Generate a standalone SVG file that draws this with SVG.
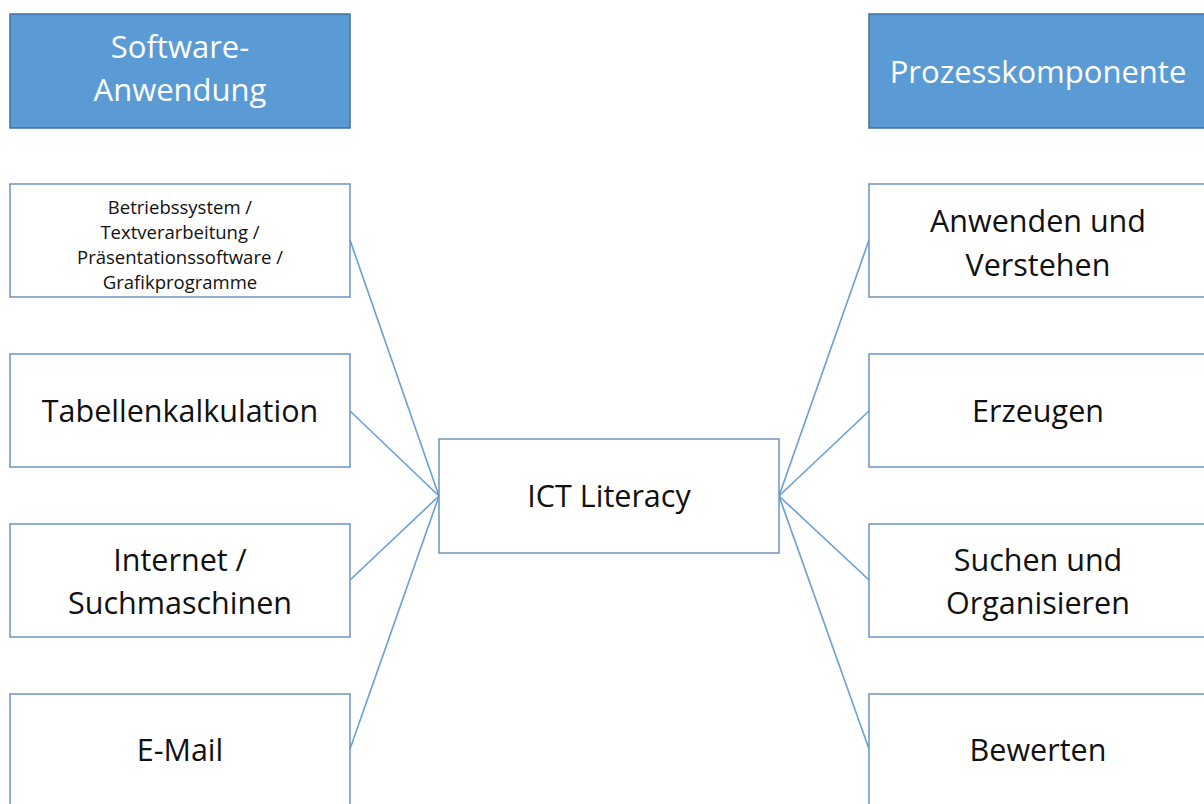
<svg xmlns="http://www.w3.org/2000/svg" width="1204" height="804" viewBox="0 0 1204 804">
<style>
.hdr{fill:#5b9bd5;stroke:#41719c;stroke-width:1.5}
.box{fill:#ffffff;stroke:#6c94bd;stroke-width:1.5}
.t{font-family:"Open Sans","Noto Sans",sans-serif;text-anchor:middle;fill:#111;font-size:30.5px}
.s{font-size:18.5px}
.w{fill:#ffffff;font-size:31px}
.c{stroke:#6a9fd4;stroke-width:1.6;fill:none}
</style>
<rect width="1204" height="804" fill="#ffffff"/>
<g id="connectors">
<line class="c" x1="439" y1="496" x2="350" y2="240"/>
<line class="c" x1="439" y1="496" x2="350" y2="411"/>
<line class="c" x1="439" y1="496" x2="350" y2="580"/>
<line class="c" x1="439" y1="496" x2="350" y2="749"/>
<line class="c" x1="779" y1="496" x2="869" y2="240"/>
<line class="c" x1="779" y1="496" x2="869" y2="411"/>
<line class="c" x1="779" y1="496" x2="869" y2="580"/>
<line class="c" x1="779" y1="496" x2="869" y2="749"/>
</g>
<g id="hdr-software">
<rect class="hdr" x="10" y="14" width="340" height="114"/>
<text class="t w" x="180" y="58">Software-</text>
<text class="t w" x="180" y="101">Anwendung</text>
</g>
<g id="hdr-prozess">
<rect class="hdr" x="869" y="14" width="345" height="114"/>
<text class="t w" x="1038" y="83">Prozesskomponente</text>
</g>
<g id="n-betrieb">
<rect class="box" x="10" y="184" width="340" height="113"/>
<text class="t s" x="180" y="214">Betriebssystem /</text>
<text class="t s" x="180" y="239">Textverarbeitung /</text>
<text class="t s" x="180" y="264">Präsentationssoftware /</text>
<text class="t s" x="180" y="289">Grafikprogramme</text>
</g>
<g id="n-tabelle">
<rect class="box" x="10" y="354" width="340" height="113"/>
<text class="t" x="180" y="422">Tabellenkalkulation</text>
</g>
<g id="n-internet">
<rect class="box" x="10" y="524" width="340" height="113"/>
<text class="t" x="180" y="571">Internet /</text>
<text class="t" x="180" y="614">Suchmaschinen</text>
</g>
<g id="n-email">
<rect class="box" x="10" y="694" width="340" height="113"/>
<text class="t" x="180" y="761">E-Mail</text>
</g>
<g id="n-ict">
<rect class="box" x="439" y="439" width="340" height="114"/>
<text class="t" x="609" y="507">ICT Literacy</text>
</g>
<g id="n-anwenden">
<rect class="box" x="869" y="184" width="345" height="113"/>
<text class="t" x="1038" y="232">Anwenden und</text>
<text class="t" x="1038" y="276">Verstehen</text>
</g>
<g id="n-erzeugen">
<rect class="box" x="869" y="354" width="345" height="113"/>
<text class="t" x="1038" y="422">Erzeugen</text>
</g>
<g id="n-suchen">
<rect class="box" x="869" y="524" width="345" height="113"/>
<text class="t" x="1038" y="571">Suchen und</text>
<text class="t" x="1038" y="614">Organisieren</text>
</g>
<g id="n-bewerten">
<rect class="box" x="869" y="694" width="345" height="113"/>
<text class="t" x="1038" y="761">Bewerten</text>
</g>
</svg>
